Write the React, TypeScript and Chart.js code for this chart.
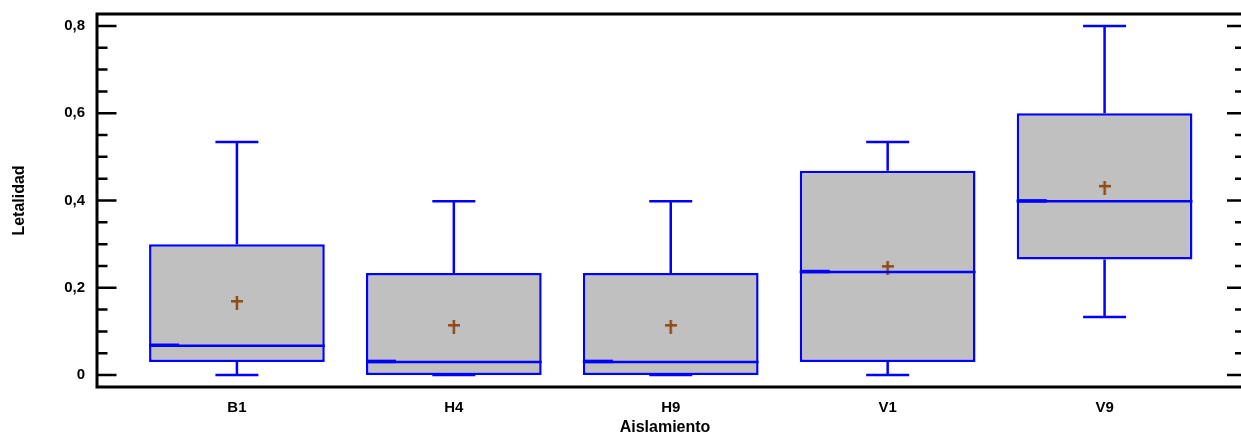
import React, { useEffect, useRef } from "react";
import { Chart, registerables } from "chart.js";

Chart.register(...registerables);

const categories = ["B1", "H4", "H9", "V1", "V9"];
const mins = [0, 0, 0, 0, 0.133];
const q1s = [0.03, 0, 0, 0.03, 0.265];
const medians = [0.067, 0.03, 0.03, 0.236, 0.398];
const q3s = [0.3, 0.234, 0.234, 0.468, 0.6];
const maxs = [0.534, 0.398, 0.398, 0.534, 0.8];
const means = [0.165, 0.11, 0.11, 0.245, 0.429];

const BLUE = "#0000FF";
const BOX_FILL = "#C0C0C0";
const MEAN_COLOR = "#8F4A16";
const FONT_FAMILY = "'Liberation Sans', Arial, sans-serif";

function makeMeanGlyph(): HTMLCanvasElement {
  const c = document.createElement("canvas");
  c.width = 12;
  c.height = 14;
  const g = c.getContext("2d")!;
  g.fillStyle = MEAN_COLOR;
  g.fillRect(0, 4, 12, 2.5);
  g.fillRect(4.75, 0, 2.5, 14);
  return c;
}

const boxPlugin = {
  id: "boxExtras",
  afterDatasetsDraw(chart: any) {
    const ctx = chart.ctx;
    const xs = chart.scales.x;
    const ys = chart.scales.y;
    const meta = chart.getDatasetMeta(0);
    ctx.save();
    ctx.strokeStyle = BLUE;
    ctx.lineWidth = 2.5;
    ctx.lineCap = "butt";
    categories.forEach((_, i) => {
      const bar = meta.data[i];
      const cx = xs.getPixelForValue(i);
      const half = bar.width / 2;
      const yMin = ys.getPixelForValue(mins[i]);
      const yQ1 = ys.getPixelForValue(q1s[i]);
      const yQ3 = ys.getPixelForValue(q3s[i]);
      const yMax = ys.getPixelForValue(maxs[i]);
      const yMed = ys.getPixelForValue(medians[i]);
      const cap = 21.5;
      ctx.beginPath();
      ctx.moveTo(cx, yQ3);
      ctx.lineTo(cx, yMax);
      ctx.moveTo(cx - cap, yMax);
      ctx.lineTo(cx + cap, yMax);
      ctx.moveTo(cx, yQ1);
      ctx.lineTo(cx, yMin);
      ctx.moveTo(cx - cap, yMin);
      ctx.lineTo(cx + cap, yMin);
      ctx.moveTo(cx - half, yMed);
      ctx.lineTo(cx + half, yMed);
      ctx.stroke();
      ctx.beginPath();
      ctx.lineWidth = 3.5;
      ctx.moveTo(cx - half, yMed - 0.5);
      ctx.lineTo(cx - half + 30, yMed - 0.5);
      ctx.stroke();
      ctx.lineWidth = 2.5;
    });
    ctx.restore();
  },
  afterDraw(chart: any) {
    const ctx = chart.ctx;
    const area = chart.chartArea;
    const ys = chart.scales.y;
    const W = chart.width;
    ctx.save();
    ctx.strokeStyle = "#000";
    ctx.lineWidth = 3;
    ctx.beginPath();
    ctx.moveTo(area.left - 1.5, area.top);
    ctx.lineTo(W, area.top);
    ctx.moveTo(area.left, area.top);
    ctx.lineTo(area.left, area.bottom);
    ctx.moveTo(area.left - 1.5, area.bottom);
    ctx.lineTo(W, area.bottom);
    ctx.stroke();
    ctx.lineWidth = 2.5;
    ctx.beginPath();
    ys.ticks.forEach((t: any) => {
      const y = ys.getPixelForValue(t.value);
      const major = t.label !== "";
      const len = major ? 18 : 9;
      ctx.moveTo(area.left, y);
      ctx.lineTo(area.left + len + 1.5, y);
      const rlen = major ? 14 : 6;
      ctx.moveTo(W, y);
      ctx.lineTo(W - rlen, y);
    });
    ctx.stroke();
    ctx.restore();
  },
};

export default function App() {
  const ref = useRef<HTMLCanvasElement | null>(null);

  useEffect(() => {
    document.body.style.margin = "0";
    const canvas = ref.current!;
    const glyph = makeMeanGlyph();
    const chart = new Chart(canvas, {
      type: "bar",
      data: {
        datasets: [
          {
            type: "bar",
            label: "box",
            data: categories.map((_, i) => ({ x: i, y: [q1s[i], q3s[i]] })) as any,
            backgroundColor: BOX_FILL,
            borderColor: BLUE,
            borderWidth: 2.5,
            borderSkipped: false,
            categoryPercentage: 1,
            barPercentage: 0.81,
            order: 2,
          } as any,
          {
            type: "scatter",
            label: "mean",
            data: categories.map((_, i) => ({ x: i, y: means[i] })),
            pointStyle: glyph as any,
            pointRadius: 7,
            order: 1,
          } as any,
        ],
      },
      options: {
        responsive: false,
        animation: false,
        events: [],
        layout: { padding: { top: 14, left: 0, right: 0, bottom: 0 } },
        plugins: {
          legend: { display: false },
          tooltip: { enabled: false },
        },
        scales: {
          x: {
            type: "linear",
            offset: false,
            min: -0.645,
            max: 4.592,
            grid: { display: false, drawTicks: false, offset: false },
            border: { display: false },
            ticks: {
              stepSize: 1,
              includeBounds: false,
              autoSkip: false,
              maxRotation: 0,
              padding: 12,
              color: "#000",
              font: { family: FONT_FAMILY, size: 15, weight: "bold" },
              callback: (v: any) =>
                Number.isInteger(v) && categories[v] !== undefined ? categories[v] : "",
            },
            title: {
              display: true,
              text: "Aislamiento",
              color: "#000",
              padding: { top: 0, bottom: -1 },
              font: { family: FONT_FAMILY, size: 16, weight: "bold" },
            },
            afterFit: (s: any) => {
              s.height = 49;
              s.paddingLeft = 0;
              s.paddingRight = 0;
            },
          },
          y: {
            type: "linear",
            min: -0.0275,
            max: 0.8275,
            grid: { display: false, drawTicks: false },
            border: { display: false },
            ticks: {
              stepSize: 0.05,
              includeBounds: false,
              autoSkip: false,
              padding: 12,
              color: "#000",
              font: { family: FONT_FAMILY, size: 15, weight: "bold" },
              callback: (v: any) => {
                const n = Number(v);
                if (Math.abs(n * 5 - Math.round(n * 5)) > 1e-6) return "";
                if (Math.abs(n) < 1e-9) return "0";
                return n.toFixed(1).replace(".", ",");
              },
            },
            title: {
              display: true,
              text: "Letalidad",
              color: "#000",
              padding: { top: 10, bottom: 0 },
              font: { family: FONT_FAMILY, size: 16, weight: "bold" },
            },
            afterFit: (s: any) => {
              s.width = 97;
              s.paddingTop = 0;
              s.paddingBottom = 0;
            },
          },
        },
      },
      plugins: [boxPlugin],
    });
    return () => chart.destroy();
  }, []);

  return (
    <div style={{ width: 1241, height: 436 }}>
      <canvas ref={ref} width={1241} height={436} style={{ display: "block" }} />
    </div>
  );
}
